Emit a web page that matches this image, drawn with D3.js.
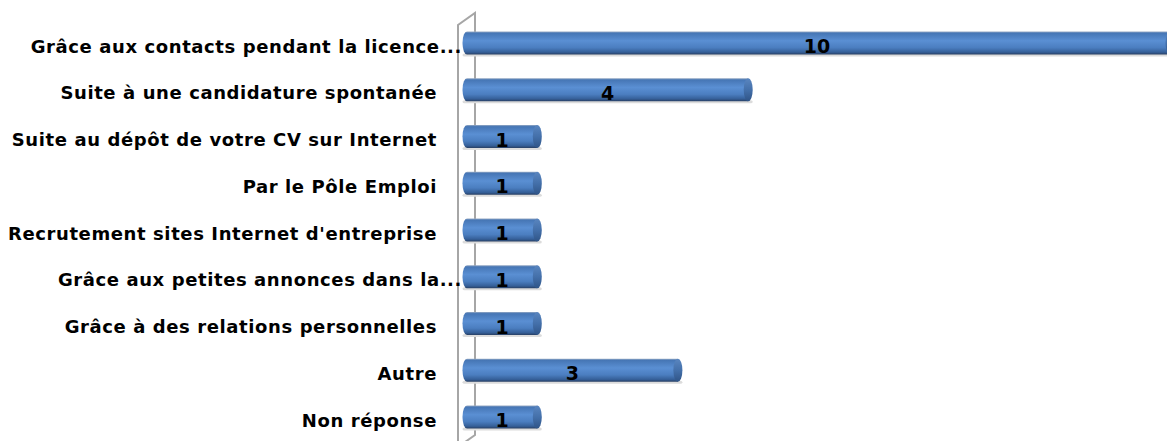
<!DOCTYPE html>
<html><head><meta charset="utf-8">
<script src="https://cdn.jsdelivr.net/npm/d3@7"></script>
<style>html,body{margin:0;padding:0;background:#fff;overflow:hidden}</style>
</head><body><svg id="c" width="1167" height="441"></svg>
<script>
const categories = [
  "Grâce aux contacts pendant la licence...",
  "Suite à une candidature spontanée",
  "Suite au dépôt de votre CV sur Internet",
  "Par le Pôle Emploi",
  "Recrutement sites Internet d'entreprise",
  "Grâce aux petites annonces dans la...",
  "Grâce à des relations personnelles",
  "Autre",
  "Non réponse"
];
const values = [10, 4, 1, 1, 1, 1, 1, 3, 1];
const xDomain = [0, 10];

const W = 1167, H = 441;
const svg = d3.select("#c");
const x = d3.scaleLinear().domain(xDomain).range([467, 1170]);
const y = d3.scalePoint().domain(categories).range([43, 417]);
const bh = 23, rx = 4.5;

const defs = svg.append("defs");
const g = defs.append("linearGradient").attr("id","cyl").attr("x1",0).attr("y1",0).attr("x2",0).attr("y2",1);
[[0,"#97aac4"],[0.07,"#4676b5"],[0.4,"#5a8fd3"],[0.7,"#4b7ec0"],[0.9,"#355f98"],[1,"#283f63"]]
  .forEach(([o,c])=>g.append("stop").attr("offset",o).attr("stop-color",c));
const g2 = defs.append("linearGradient").attr("id","cap").attr("x1",0).attr("y1",0).attr("x2",0).attr("y2",1);
[[0,"#5a86c0"],[0.5,"#4470aa"],[1,"#2f5487"]].forEach(([o,c])=>g2.append("stop").attr("offset",o).attr("stop-color",c));

// walls (axis frame)
const wall = svg.append("g").attr("stroke","#a6a6a6").attr("stroke-width",2).attr("fill","none");
wall.append("path").attr("d",`M458,441 L458,25 L475,13 L475,435 L458,447`);

// shadows
svg.append("g").selectAll("rect").data(values).join("rect")
  .attr("x", x(0)-rx).attr("y",(d,i)=>y(categories[i])+bh/2-1)
  .attr("width",d=>Math.max(0,x(d)-x(0)+2*rx)).attr("height",3)
  .attr("fill","#dcdcdc").attr("rx",2);

const bars = svg.append("g").selectAll("g").data(values).join("g")
  .attr("transform",(d,i)=>`translate(0,${y(categories[i])})`);
bars.append("path")
  .attr("d", d => {
    const x0 = x(0), x1 = x(d), h = bh/2;
    return `M${x1},${-h} L${x0},${-h} A${rx},${h} 0 0 0 ${x0},${h} L${x1},${h} Z`;
  })
  .attr("fill","url(#cyl)");
bars.append("ellipse")
  .attr("cx", d=>x(d)).attr("cy",0).attr("rx",rx).attr("ry",bh/2)
  .attr("fill","url(#cap)");

// value labels
bars.append("text")
  .attr("x", d => (x(0) + Math.min(x(d), W)) / 2)
  .attr("y", 3)
  .attr("text-anchor","middle").attr("dominant-baseline","central")
  .attr("font-family","DejaVu Sans, sans-serif").attr("font-weight","bold")
  .attr("font-size",19).attr("fill","#000")
  .text(d=>d);

// category labels
svg.append("g").selectAll("text").data(categories).join("text")
  .attr("x", d => d.endsWith("...") ? 462 : 437)
  .attr("y", d => y(d) + 3)
  .attr("text-anchor","end").attr("dominant-baseline","central")
  .attr("font-family","DejaVu Sans, sans-serif").attr("font-weight","bold")
  .attr("font-size",18).attr("letter-spacing","0.6px").attr("fill","#000")
  .text(d=>d);
</script></body></html>
